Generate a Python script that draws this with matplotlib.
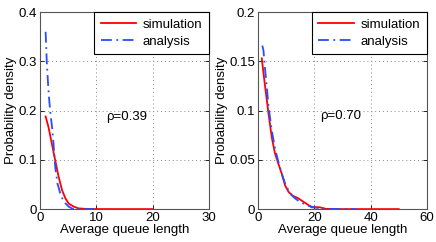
import matplotlib
matplotlib.use("Agg")
import matplotlib.pyplot as plt

plt.rcParams['font.family'] = ['Liberation Sans', 'DejaVu Sans']

# Left panel (rho = 0.39)
sim1_x = [1.0, 1.5, 2.1, 2.7, 3.3, 3.9, 4.5, 5.1, 6.0, 6.8, 8.0, 9.0, 10.0, 15.0, 20.0]
sim1_y = [0.188, 0.167, 0.133, 0.099, 0.066, 0.039, 0.022, 0.011, 0.005, 0.0015, 0.0005, 0.0002, 0.0001, 0.0, 0.0]
ana1_x = [1.0, 1.2, 1.4, 1.6, 1.8, 2.2, 2.4, 2.7, 3.1, 3.6, 4.2, 5.1, 5.7, 7.0, 9.6]
ana1_y = [0.36, 0.30, 0.26, 0.227, 0.20, 0.16, 0.133, 0.086, 0.052, 0.032, 0.015, 0.005, 0.001, 0.0003, 0.0]

# Right panel (rho = 0.70)
sim2_x = [1.3, 2.5, 3.7, 4.85, 6.0, 7.2, 8.4, 9.6, 10.8, 12.0, 13.1, 14.3, 15.5, 16.7, 17.9, 19.1,
          20.0, 21.0, 22.0, 23.0, 24.0, 30.0, 40.0, 50.0]
sim2_y = [0.153, 0.124, 0.097, 0.073, 0.0565, 0.046, 0.036, 0.024, 0.0176, 0.014, 0.0125, 0.011, 0.0085,
          0.0064, 0.004, 0.0017, 0.0018, 0.002, 0.0018, 0.001, 0.0002, 0.0, 0.0, 0.0]
ana2_x = [1.5, 1.9, 2.5, 3.1, 3.7, 4.85, 6.0, 7.2, 8.4, 9.6, 10.8, 12.0, 13.1, 14.3, 15.5, 16.7,
          17.9, 19.1, 21.0, 23.0, 25.0, 30.0, 35.0]
ana2_y = [0.166, 0.161, 0.141, 0.124, 0.104, 0.080, 0.0616, 0.048, 0.036, 0.026, 0.019, 0.014, 0.011,
          0.0085, 0.0064, 0.005, 0.0034, 0.0024, 0.0012, 0.0006, 0.0002, 0.0, 0.0]

panels = [
    dict(sx=sim1_x, sy=sim1_y, ax_=ana1_x, ay=ana1_y, xlim=(0, 30), ylim=(0, 0.4),
         xticks=[0, 10, 20, 30], yticks=[0, 0.1, 0.2, 0.3, 0.4],
         yticklabels=['0', '0.1', '0.2', '0.3', '0.4'],
         label='ρ=0.39', lpos=(11.8, 0.187), pos=[0.0917, 0.136, 0.388, 0.814]),
    dict(sx=sim2_x, sy=sim2_y, ax_=ana2_x, ay=ana2_y, xlim=(0, 60), ylim=(0, 0.2),
         xticks=[0, 20, 40, 60], yticks=[0, 0.05, 0.1, 0.15, 0.2],
         yticklabels=['0', '0.05', '0.1', '0.15', '0.2'],
         label='ρ=0.70', lpos=(22.0, 0.095), pos=[0.592, 0.136, 0.387, 0.814]),
]

fig = plt.figure(figsize=(4.36, 2.42), dpi=100)
fs = 9.5
for p in panels:
    ax = fig.add_axes(p['pos'])
    ax.plot(p['sx'], p['sy'], color='#ff0000', lw=1.3, label='simulation')
    ax.plot(p['ax_'], p['ay'], color='#2a4cff', lw=1.3, ls='-.', dashes=(6, 2.5, 1, 2.5), label='analysis')
    ax.set_xlim(*p['xlim'])
    ax.set_ylim(*p['ylim'])
    ax.set_xticks(p['xticks'])
    ax.set_yticks(p['yticks'])
    ax.set_yticklabels(p['yticklabels'])
    ax.grid(True, color='#888888', ls=(0, (1, 3)), lw=0.7)
    ax.tick_params(direction='in', length=3, width=0.6, labelsize=fs, top=True, right=True, pad=2)
    for s in ax.spines.values():
        s.set_color('#555555')
        s.set_linewidth(0.8)
    ax.set_xlabel('Average queue length', fontsize=fs, labelpad=0)
    ax.set_ylabel('Probability density', fontsize=fs, labelpad=1)
    ax.text(p['lpos'][0], p['lpos'][1], p['label'], fontsize=fs, va='center', ha='left')
    leg = ax.legend(loc='upper right', fontsize=fs, fancybox=False, framealpha=1,
                    edgecolor='black', borderaxespad=0, handlelength=2.7, borderpad=0.5,
                    labelspacing=0.35, handletextpad=0.5)
    leg.get_frame().set_linewidth(0.8)

fig.savefig('out.png', dpi=100)
